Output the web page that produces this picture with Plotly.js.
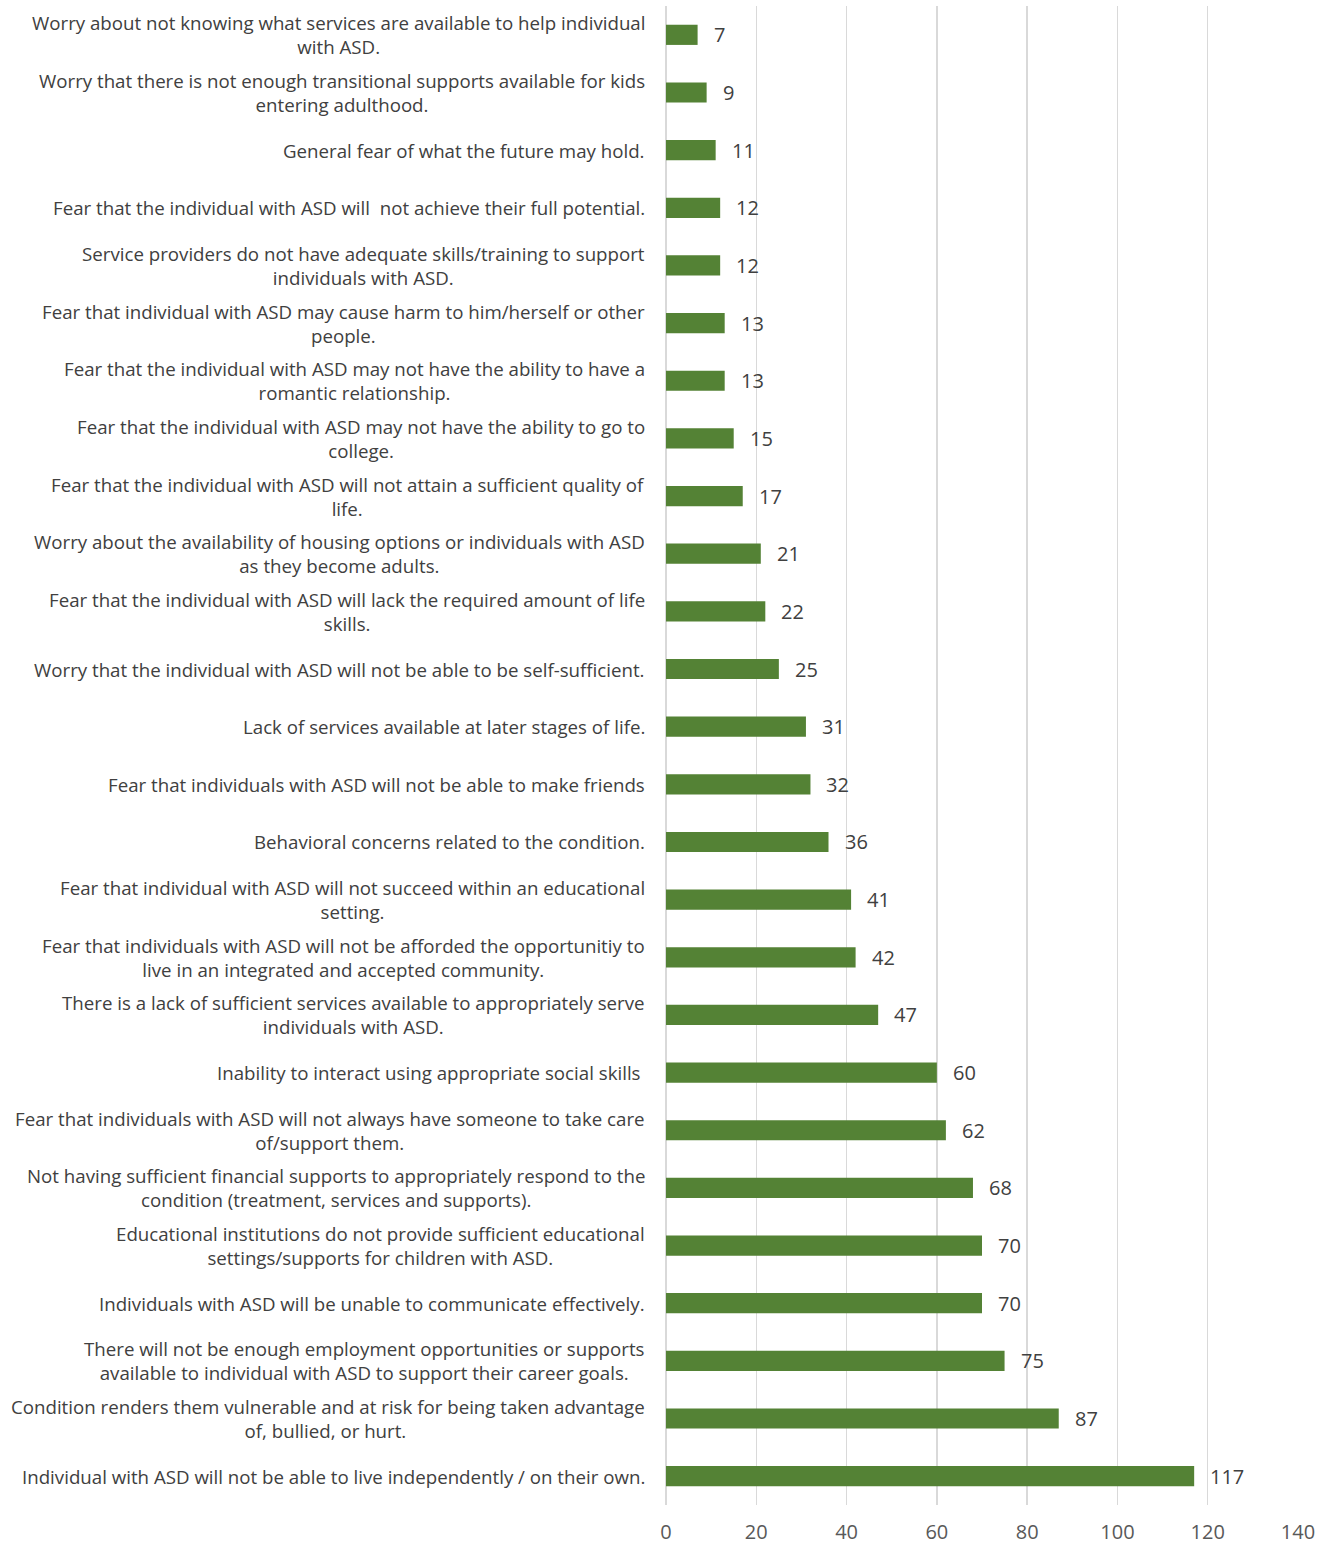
<!DOCTYPE html>
<html>
<head>
<meta charset="utf-8">
<script src="https://cdn.plot.ly/plotly-3.0.1.min.js"></script>
<style>html,body{margin:0;padding:0;background:#fff;}</style>
</head>
<body>
<div id="chart" style="width:1330px;height:1546px;"></div>
<script>
// Categories listed top to bottom as in the chart
const categories = [
  "Worry about not knowing what services are available to help individual<br>with ASD.",
  "Worry that there is not enough transitional supports available for kids<br>entering adulthood.",
  "General fear of what the future may hold.",
  "Fear that the individual with ASD will  not achieve their full potential.",
  "Service providers do not have adequate skills/training to support<br>individuals with ASD.",
  "Fear that individual with ASD may cause harm to him/herself or other<br>people.",
  "Fear that the individual with ASD may not have the ability to have a<br>romantic relationship.",
  "Fear that the individual with ASD may not have the ability to go to<br>college.",
  "Fear that the individual with ASD will not attain a sufficient quality of<br>life.",
  "Worry about the availability of housing options or individuals with ASD<br>as they become adults.",
  "Fear that the individual with ASD will lack the required amount of life<br>skills.",
  "Worry that the individual with ASD will not be able to be self-sufficient.",
  "Lack of services available at later stages of life.",
  "Fear that individuals with ASD will not be able to make friends",
  "Behavioral concerns related to the condition.",
  "Fear that individual with ASD will not succeed within an educational<br>setting.",
  "Fear that individuals with ASD will not be afforded the opportunitiy to<br>live in an integrated and accepted community.",
  "There is a lack of sufficient services available to appropriately serve<br>individuals with ASD.",
  "Inability to interact using appropriate social skills ",
  "Fear that individuals with ASD will not always have someone to take care<br>of/support them.",
  "Not having sufficient financial supports to appropriately respond to the<br>condition (treatment, services and supports).",
  "Educational institutions do not provide sufficient educational<br>settings/supports for children with ASD.",
  "Individuals with ASD will be unable to communicate effectively.",
  "There will not be enough employment opportunities or supports<br>available to individual with ASD to support their career goals.",
  "Condition renders them vulnerable and at risk for being taken advantage<br>of, bullied, or hurt. ",
  "Individual with ASD will not be able to live independently / on their own."
];
const values = [7, 9, 11, 12, 12, 13, 13, 15, 17, 21, 22, 25, 31, 32, 36, 41, 42, 47, 60, 62, 68, 70, 70, 75, 87, 117];
const xTicks = [0, 20, 40, 60, 80, 100, 120, 140];

const FONT = "Open Sans, sans-serif";
const GREEN = "#548235";

const annotations = [];
categories.forEach((c, i) => {
  annotations.push({
    xref: "paper", yref: "y", x: 0, y: c,
    xanchor: "right", yanchor: "middle", align: "center",
    xshift: -19, text: c, showarrow: false,
    font: {family: FONT, size: 18.7, color: "#404040"}
  });
  annotations.push({
    xref: "x", yref: "y", x: values[i], y: c,
    xanchor: "left", yanchor: "middle", xshift: 14,
    text: String(values[i]), showarrow: false,
    font: {family: FONT, size: 20, color: "#404040"}
  });
});

const trace = {
  type: "bar", orientation: "h",
  x: values, y: categories,
  marker: {color: GREEN},
  width: 0.35,
  hoverinfo: "none"
};

const layout = {
  width: 1330, height: 1546,
  margin: {l: 666, r: 32, t: 6, b: 41},
  paper_bgcolor: "#fff", plot_bgcolor: "#fff",
  showlegend: false,
  xaxis: {
    range: [0, 140], tickvals: xTicks, ticktext: xTicks.map(String),
    showgrid: true, gridcolor: "#d9d9d9", gridwidth: 1.5,
    zeroline: true, zerolinecolor: "#d9d9d9", zerolinewidth: 1.5,
    showline: false, ticks: "",
    tickfont: {family: FONT, size: 20, color: "#595959"},
    ticklabelstandoff: 13
  },
  yaxis: {
    type: "category", autorange: "reversed",
    showticklabels: false, showgrid: false, zeroline: false, showline: false, ticks: ""
  },
  annotations: annotations
};

Plotly.newPlot("chart", [trace], layout, {staticPlot: true, displayModeBar: false});
</script>
</body>
</html>
